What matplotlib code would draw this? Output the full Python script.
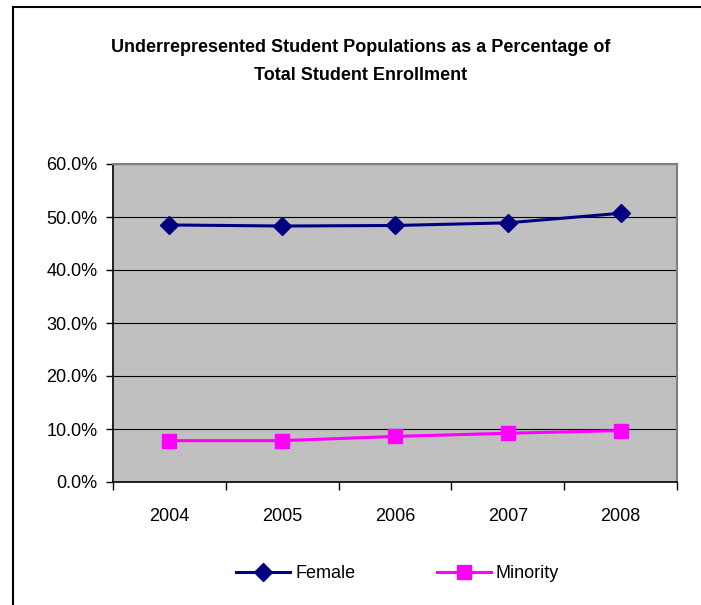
import numpy as np
import matplotlib.pyplot as plt

# data
years = ['2004', '2005', '2006', '2007', '2008']
female = [48.5, 48.3, 48.4, 48.9, 50.7]
minority = [7.8, 7.8, 8.6, 9.2, 9.7]

plt.rcParams['font.family'] = ['Liberation Sans', 'DejaVu Sans']

fig = plt.figure(figsize=(7.01, 6.05), dpi=100)
ax = fig.add_axes([113/701, 123/605, 564/701, 318/605])

# chart frame (only left and top visible in the crop)
fig.add_artist(plt.Line2D([13/701, 13/701], [0, 1 - 7/605], transform=fig.transFigure, color='black', lw=1.5))
fig.add_artist(plt.Line2D([13/701, 1], [1 - 7/605, 1 - 7/605], transform=fig.transFigure, color='black', lw=1.5))

x = np.arange(len(years))
ax.set_facecolor('#C0C0C0')
ax.plot(x, female, color='#000080', lw=2.2, marker='D', markersize=9.5, label='Female')
ax.plot(x, minority, color='#FF00FF', lw=2.2, marker='s', markersize=10.5, label='Minority')

ax.set_xlim(-0.5, 4.5)
ax.set_ylim(0, 60)
ax.set_yticks(np.arange(0, 61, 10))
ax.set_yticklabels(['%.1f%%' % v for v in np.arange(0, 61, 10)], fontsize=13)
ax.yaxis.grid(True, color='black', lw=0.8)
ax.set_axisbelow(True)

ax.set_xticks(np.arange(-0.5, 5, 1))
ax.set_xticklabels([])
ax.set_xticks(x, minor=True)
ax.set_xticklabels(years, minor=True, fontsize=13)
ax.tick_params(axis='x', which='major', length=6, width=1, direction='out')
ax.tick_params(axis='x', which='minor', length=0, pad=19)
ax.tick_params(axis='y', length=5, width=1, direction='out', pad=6)

for s in ['top', 'right']:
    ax.spines[s].set_color('#808080')
    ax.spines[s].set_linewidth(1.5)
for s in ['left', 'bottom']:
    ax.spines[s].set_color('black')
    ax.spines[s].set_linewidth(1.2)

fig.text(0.514, 1 - 47/605, 'Underrepresented Student Populations as a Percentage of',
         ha='center', va='center', fontsize=13, fontweight='bold')
fig.text(0.514, 1 - 76/605, 'Total Student Enrollment',
         ha='center', va='center', fontsize=13, fontweight='bold')

fig.legend(loc='center', bbox_to_anchor=(0.567, 1 - 574/605), ncol=2, frameon=False,
           fontsize=13, handlelength=3.0, handletextpad=0.28, columnspacing=4.5)

fig.savefig('out.png', dpi=100)
